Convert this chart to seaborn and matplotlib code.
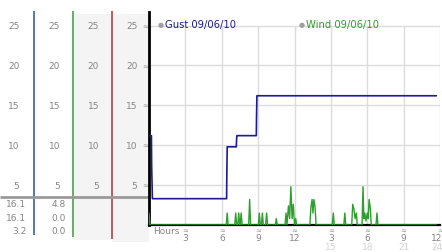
import matplotlib
matplotlib.use("Agg")
import matplotlib.pyplot as plt
import matplotlib.transforms as mtransforms
from matplotlib.patches import Rectangle
import seaborn as sns
import pandas as pd

# ---------------- data ----------------
gust_hours = [0.0, 0.2, 0.22, 0.28, 6.4, 6.42, 6.45, 7.2, 7.22, 7.25, 8.85, 8.87, 8.9, 23.7]
gust_values = [11.2, 11.2, 7.3, 3.3, 3.3, 6.6, 9.8, 9.8, 10.6, 11.2, 11.2, 13.6, 16.2, 16.2]

wind_hours = [0.0, 0.08, 6.37, 6.45, 6.53, 7.07, 7.15, 7.23, 7.32, 7.4, 7.48, 7.52, 7.6, 7.68,
              8.22, 8.3, 8.38, 9.02, 9.1, 9.18, 9.27, 9.35, 9.43, 9.62, 9.7, 9.78, 10.42, 10.5,
              10.58, 11.22, 11.3, 11.38, 11.5, 11.6, 11.7, 11.8, 11.9, 12.0, 12.1, 12.18, 13.27,
              13.35, 13.45, 13.52, 13.6, 13.7, 13.78, 15.12, 15.2, 15.28, 16.07, 16.15, 16.23,
              16.72, 16.8, 16.9, 17.0, 17.1, 17.18, 17.57, 17.65, 17.72, 17.8, 17.9, 18.0, 18.08,
              18.15, 18.25, 18.33, 18.72, 18.8, 18.88, 23.7]
wind_values = [1.5, 0, 0, 1.5, 0, 0, 1.5, 0, 0, 1.5, 0, 0, 1.5, 0,
               0, 3.2, 0, 0, 1.5, 0, 0, 1.5, 0, 0, 1.5, 0, 0, 0.8,
               0, 0, 1.5, 0, 2.4, 0.8, 4.8, 0.8, 2.6, 0, 0.8, 0, 0,
               2.2, 3.2, 1.5, 3.2, 2.2, 0, 0, 1.5, 0, 0, 1.5, 0,
               0, 2.6, 2.0, 0.8, 1.5, 0, 0, 4.8, 0.8, 1.5, 0.5, 1.5, 0.8,
               3.2, 2.2, 0, 0, 1.5, 0, 0]

y_ticks = [5, 10, 15, 20, 25]
x_ticks = [3, 6, 9, 12, 15, 18, 21, 24]
x_labels_top = ["3", "6", "9", "12", "3", "6", "9", "12"]
x_ticks_second = [15, 18, 21, 24]
x_labels_second = ["15", "18", "21", "24"]

legend_labels = ["Gust 09/06/10", "Wind 09/06/10"]
table_col1 = ["16.1", "16.1", "3.2"]
table_col2 = ["4.8", "0.0", "0.0"]

GUST_C = "#1c1c8c"
WIND_C = "#2e9e2e"
GRID_C = "#dcdcdc"
TXT_C = "#858585"

# ---------------- figure ----------------
W, H = 442, 253
fig = plt.figure(figsize=(W / 100, H / 100), dpi=100)
sns.set_style("white")
plt.rcParams['font.family'] = ['DejaVu Sans']

bg = fig.add_axes([0, 0, 1, 1])
bg.set_xlim(0, W)
bg.set_ylim(H, 0)
bg.axis("off")

# gray background columns
bg.add_patch(Rectangle((73, 15), 38, 226, color="#f4f4f4", lw=0, zorder=0))
bg.add_patch(Rectangle((112, 15), 37, 228, color="#f4f4f4", lw=0, zorder=0))

# main axes
top_px, bot_px, left_px, right_px = 13, 226, 149, 440
ax = fig.add_axes([left_px / W, (H - bot_px) / H, (right_px - left_px) / W, (bot_px - top_px) / H])
ax.patch.set_alpha(0)
ax.set_xlim(0, 24)
ax.set_ylim(0, 26.7)

for v in y_ticks:
    ax.axhline(v, color=GRID_C, lw=1, zorder=0)
ax.vlines(x_ticks, 0, 25, color=GRID_C, lw=1, zorder=0)

gust_df = pd.DataFrame({"hour": gust_hours, "value": gust_values})
wind_df = pd.DataFrame({"hour": wind_hours, "value": wind_values})
sns.lineplot(data=gust_df, x="hour", y="value", ax=ax, color=GUST_C, lw=1.2, sort=False, zorder=3)
sns.lineplot(data=wind_df, x="hour", y="value", ax=ax, color=WIND_C, lw=1.0, sort=False, zorder=4)

ax.set_xlabel("")
ax.set_ylabel("")
ax.set_xticks([])
ax.set_yticks([])
for s in ["top", "right"]:
    ax.spines[s].set_visible(False)
ax.spines["left"].set_color("black")
ax.spines["left"].set_linewidth(2)
ax.spines["bottom"].set_color("black")
ax.spines["bottom"].set_linewidth(1.6)

# legend
ax.text(0.04, 0.945, "\u25CF", transform=ax.transAxes, color="#a0a0a0", fontsize=5, va="center", ha="center")
ax.text(0.055, 0.945, legend_labels[0], transform=ax.transAxes, color=GUST_C, fontsize=7.2, va="center", ha="left")
ax.text(0.525, 0.945, "\u25CF", transform=ax.transAxes, color="#a0a0a0", fontsize=5, va="center", ha="center")
ax.text(0.54, 0.945, legend_labels[1], transform=ax.transAxes, color=WIND_C, fontsize=7.2, va="center", ha="left")

# left columns: vertical lines
bg.vlines([33.5], 12, 236, color="#2850a8", lw=1.1)
bg.vlines([72.5], 12, 238, color="#3a9a3a", lw=1.1)
bg.vlines([111.5], 12, 240, color="#a83232", lw=1.1)
bg.hlines([197.5], 0, 149, color="#9a9a9a", lw=2, zorder=2)

# y tick labels in each column (pixel x, data y)
trans = mtransforms.blended_transform_factory(bg.transData, ax.transData)
for xr in [19.5, 60, 99, 137.5]:
    for v in y_ticks:
        bg.text(xr, v, str(v), transform=trans, ha="right", va="center", fontsize=6.5, color=TXT_C)
for v in y_ticks:
    bg.text(145.5, v, "\u2248", transform=trans, ha="center", va="center", fontsize=5, color="#999999")

# table
for i, (a, b) in enumerate(zip(table_col1, table_col2)):
    yy = 205 + i * 13.5
    bg.text(26.5, yy, a, ha="right", va="center", fontsize=6.5, color=TXT_C)
    bg.text(66, yy, b, ha="right", va="center", fontsize=6.5, color=TXT_C)

# x tick marks / labels
transx = mtransforms.blended_transform_factory(ax.transData, bg.transData)
shift_left = mtransforms.ScaledTranslation(-3 / 100, 0, fig.dpi_scale_trans)
for h, lab in zip(x_ticks, x_labels_top):
    bg.text(h, 230.5, "\u2248", transform=transx, ha="center", va="center", fontsize=5, color="#999999")
    t = transx + shift_left if h == x_ticks[-1] else transx
    bg.text(h, 238.5, lab, transform=t, ha="center", va="center", fontsize=6.5, color=TXT_C)
for h, lab in zip(x_ticks_second, x_labels_second):
    t = transx + shift_left if h == x_ticks_second[-1] else transx
    bg.text(h, 247.5, lab, transform=t, ha="center", va="center", fontsize=6.5, color="#d2d2d2")
bg.text(153, 231.5, "Hours", ha="left", va="center", fontsize=6.5, color=TXT_C)

fig.savefig("out.png", dpi=100)
